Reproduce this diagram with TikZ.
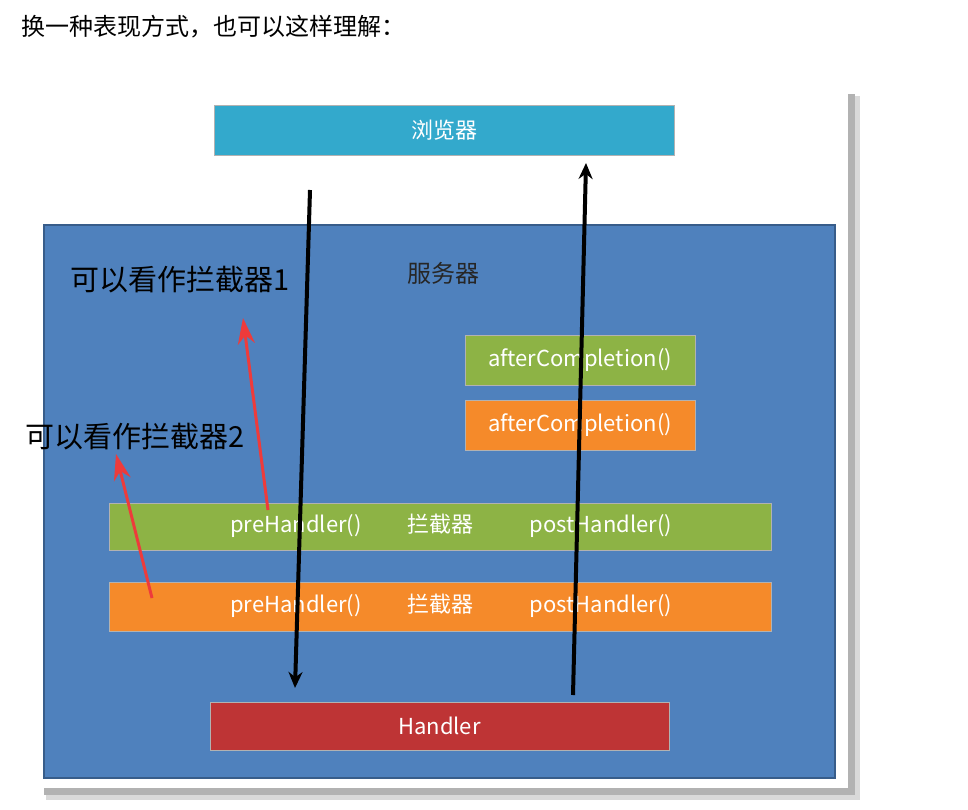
\documentclass[tikz,border=0pt]{standalone}
\usepackage{fontspec}
\setmainfont{Noto Sans CJK SC}
\usetikzlibrary{arrows.meta}
\definecolor{srv}{HTML}{4F81BD}
\definecolor{srvb}{HTML}{385D8A}
\definecolor{grn}{HTML}{8DB345}
\definecolor{org}{HTML}{F58A2A}
\definecolor{cy}{HTML}{33A9CC}
\definecolor{hred}{HTML}{BE3435}
\definecolor{rarrow}{HTML}{EE3B3B}
\tikzset{
 bar/.style={draw=white!70!black, line width=0.6pt, text=white, font=\fontsize{22}{22}\selectfont, inner sep=0pt},
 lbl/.style={font=\fontsize{22}{22}\selectfont, text=white},
 note/.style={font=\fontsize{29}{29}\selectfont, text=black},
 flow/.style={line width=4pt, -{Stealth[length=16pt,width=14pt]}},
 red/.style={draw=rarrow, fill=rarrow, line width=3pt, -{Stealth[length=26pt,width=17pt]}}
}
\begin{document}
\begin{tikzpicture}[x=1pt,y=-1pt]
\useasboundingbox (0,0) rectangle (968,810);
\fill[white] (0,0) rectangle (968,810);
\node[anchor=west, font=\fontsize{24}{24}\selectfont] (title) at (18,27) {换一种表现方式，也可以这样理解：};
% panel with shadow
\fill[black!15] (46,96) rectangle (860,800);
\fill[black!30] (44,94) rectangle (855,795);
\fill[white] (38,88) rectangle (848,788);
\node[bar, fill=cy, minimum width=460pt, minimum height=50pt] (browser) at (444,130) {浏览器};
\node[draw=srvb, fill=srv, line width=1.2pt, minimum width=791pt, minimum height=553pt] (server) at (439.5,501.5) {};
\node[font=\fontsize{24}{24}\selectfont, text=black!85] (srvlabel) at (443,273) {服务器};
\node[bar, fill=grn, minimum width=230pt, minimum height=50pt] (ac1) at (580,360) {afterCompletion()};
\node[bar, fill=org, minimum width=230pt, minimum height=50pt] (ac2) at (580,425) {afterCompletion()};
\node[bar, fill=grn, minimum width=662pt, minimum height=47pt] (g) at (440,526.5) {};
\node[bar, fill=org, minimum width=662pt, minimum height=49pt] (o) at (440,606.5) {};
\node[lbl] (gp) at (296,526) {preHandler()};
\node[lbl] (gi) at (440,524) {拦截器};
\node[lbl] (gq) at (601,526) {postHandler()};
\node[lbl] (op) at (296,606) {preHandler()};
\node[lbl] (oi) at (440,604) {拦截器};
\node[lbl] (oq) at (601,606) {postHandler()};
\node[bar, fill=hred, minimum width=459pt, minimum height=48pt] (handler) at (439.5,726) {Handler};
\node[note] (n1) at (180,280) {可以看作拦截器1};
\node[note] (n2) at (135,437) {可以看作拦截器2};
\coordinate (d1) at (310,190); \coordinate (d2) at (295,688);
\coordinate (u1) at (573,695); \coordinate (u2) at (586,163);
\draw[flow] (d1) -- (d2);
\draw[flow] (u1) -- (u2);
\coordinate (r1) at (268,510); \coordinate (r1e) at (243,318);
\coordinate (r2) at (152,598); \coordinate (r2e) at (116,454);
\draw[red] (r1) -- (r1e);
\draw[red] (r2) -- (r2e);
\end{tikzpicture}
\end{document}
